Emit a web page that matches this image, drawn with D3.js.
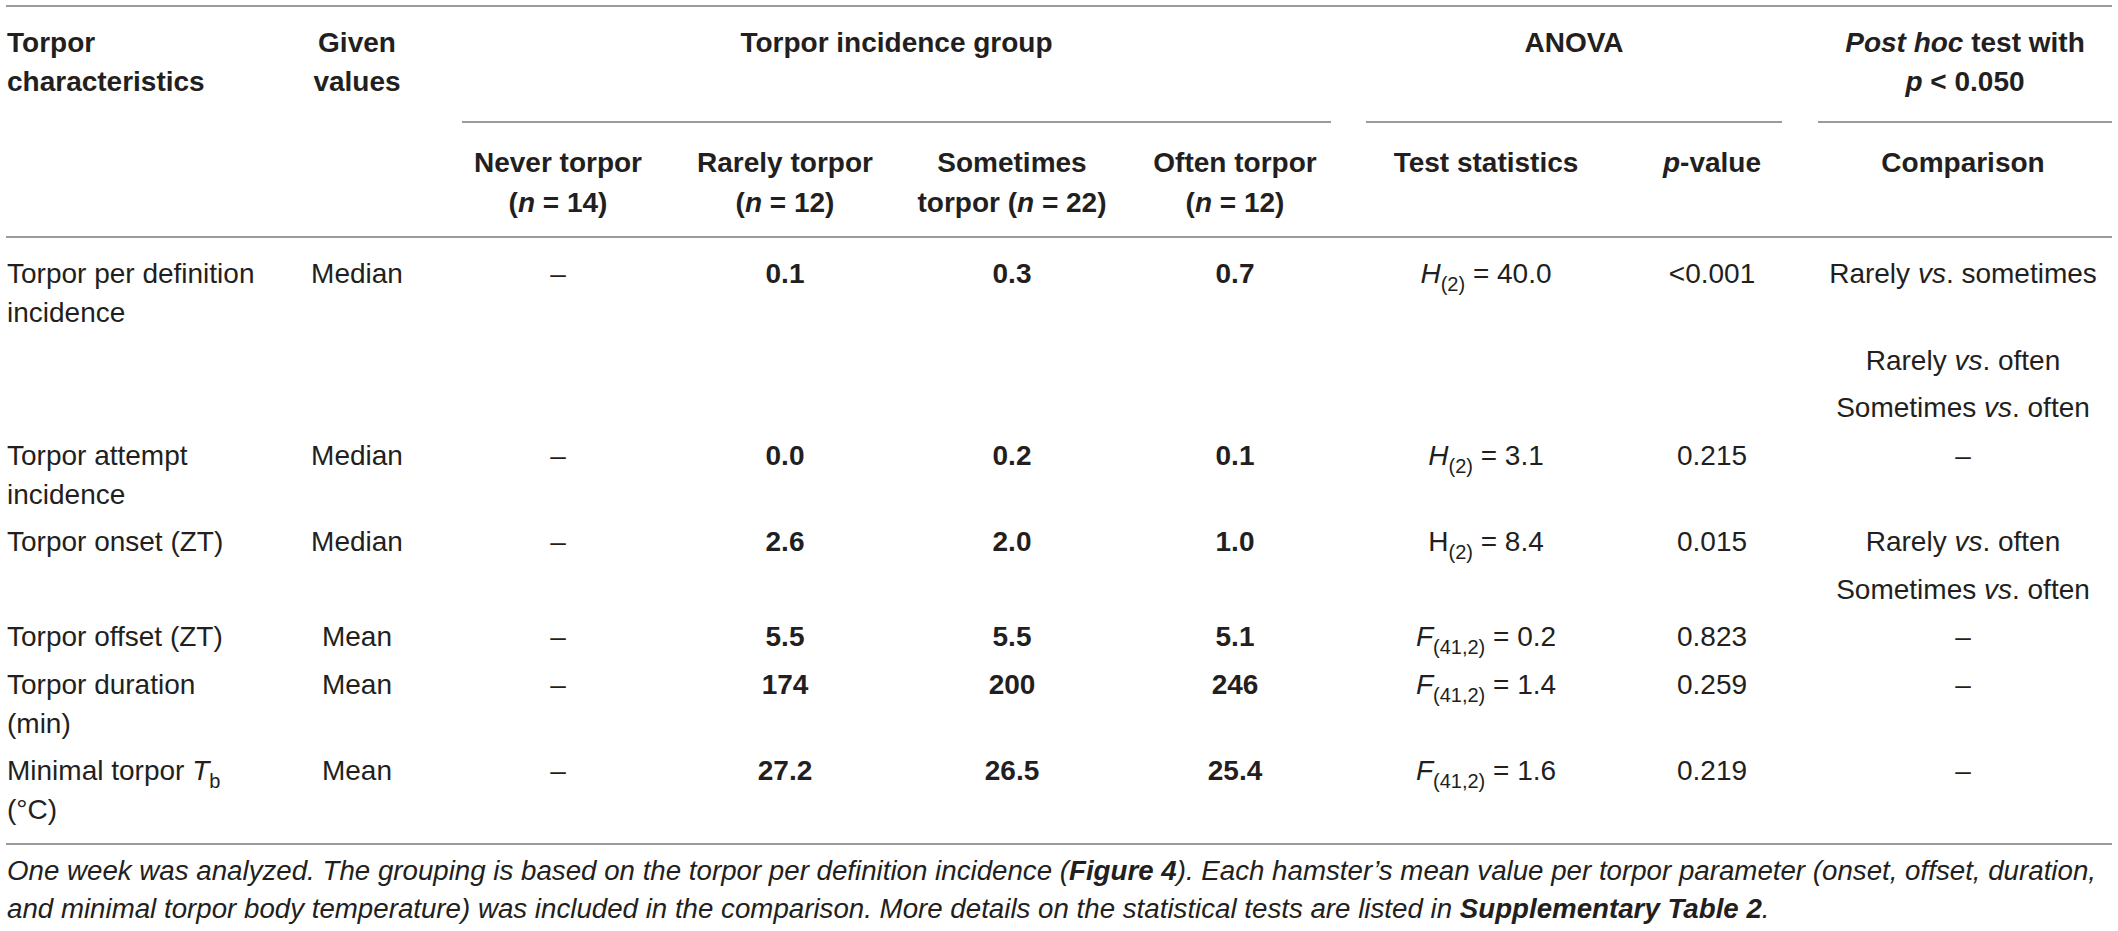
<!DOCTYPE html>
<html>
<head>
<meta charset="utf-8">
<script src="https://cdn.jsdelivr.net/npm/d3@7"></script>
<style>
	body { margin: 0; background: #fff; }
	text { font-family: "Liberation Sans", Arial, Helvetica, sans-serif; fill: #231f20; white-space: pre; }
</style>
</head>
<body>
<div id="mainWrapper"></div>
<script>

	// table contents ( *x* = italic, ~x~ = subscript, #x# = bold, | = line break )
	var characteristics = ["Torpor per definition|incidence", "Torpor attempt|incidence", "Torpor onset (ZT)", "Torpor offset (ZT)", "Torpor duration|(min)", "Minimal torpor *T*~b~|(°C)"];
	var givenValues = ["Median", "Median", "Median", "Mean", "Mean", "Mean"];
	var neverTorpor = ["–", "–", "–", "–", "–", "–"];
	var rarelyTorpor = ["0.1", "0.0", "2.6", "5.5", "174", "27.2"];
	var sometimesTorpor = ["0.3", "0.2", "2.0", "5.5", "200", "26.5"];
	var oftenTorpor = ["0.7", "0.1", "1.0", "5.1", "246", "25.4"];
	var testStatistics = ["*H*~(2)~ = 40.0", "*H*~(2)~ = 3.1", "H~(2)~ = 8.4", "*F*~(41,2)~ = 0.2", "*F*~(41,2)~ = 1.4", "*F*~(41,2)~ = 1.6"];
	var pValues = ["<0.001", "0.215", "0.015", "0.823", "0.259", "0.219"];
	var comparisons = [
		["Rarely *vs*. sometimes", "Rarely *vs*. often", "Sometimes *vs*. often"],
		["–"],
		["Rarely *vs*. often", "Sometimes *vs*. often"],
		["–"],
		["–"],
		["–"]
	];

	// header texts
	var columnKeys = ["char", "given", "never", "rarely", "sometimes", "often", "stat", "p", "comp"];
	var topHeaders = ["Torpor|characteristics", "Given|values"];
	var groupHeaders = ["Torpor incidence group", "ANOVA", "*Post hoc* test with|*p* < 0.050"];
	var groupSpans = [["never", "often"], ["stat", "p"], ["comp", "comp"]];
	var subHeaders = ["Never torpor|(*n* = 14)", "Rarely torpor|(*n* = 12)", "Sometimes|torpor (*n* = 22)", "Often torpor|(*n* = 12)", "Test statistics", "*p*-value", "Comparison"];
	var footnote = [
		"*One week was analyzed. The grouping is based on the torpor per definition incidence (#Figure 4#). Each hamster’s mean value per torpor parameter (onset, offset, duration,*",
		"*and minimal torpor body temperature) was included in the comparison. More details on the statistical tests are listed in #Supplementary Table 2#.*"
	];

	function TableDraw(){

		var width = 2118, height = 931;
		var fs = 28;
		var lineGap = 39, rowGap = 47.5;

		var svg = d3.select("#mainWrapper")
			.append("svg")
			.attr("width", width)
			.attr("height", height);

		// column centres (first column is left aligned)
		var colX = d3.scaleOrdinal()
			.domain(columnKeys)
			.range([7, 357, 558, 785, 1012, 1235, 1486, 1712, 1963]);
		// column edges for the rules under the group headers
		var colLeft = d3.scaleOrdinal().domain(columnKeys).range([6, 250, 462, 672, 900, 1125, 1366, 1600, 1818]);
		var colRight = d3.scaleOrdinal().domain(columnKeys).range([240, 450, 660, 890, 1115, 1331, 1560, 1782, 2112]);

		var rule = function(x1, x2, y){
			svg.append("line")
				.attr("x1", x1).attr("x2", x2)
				.attr("y1", y).attr("y2", y)
				.attr("stroke", "#9b9b9b")
				.attr("stroke-width", 2);
		};

		//罫線
		rule(6, 2112, 6);
		groupSpans.forEach(function(s){
			rule(colLeft(s[0]), colRight(s[1]), 122);
		});
		rule(6, 2112, 237);
		rule(6, 2112, 844);

		//ヘッダー
		var head = svg.append("g").attr("font-weight", "bold");
		multiLine(head, topHeaders[0], colX("char"), 52, "start", fs, lineGap);
		multiLine(head, topHeaders[1], colX("given"), 52, "middle", fs, lineGap);
		groupHeaders.forEach(function(h, i){
			var cx = (colLeft(groupSpans[i][0]) + colRight(groupSpans[i][1])) / 2;
			multiLine(head, h, cx, 52, "middle", fs, lineGap);
		});
		subHeaders.forEach(function(h, i){
			multiLine(head, h, colX(columnKeys[i + 2]), 172, "middle", fs, 40);
		});

		//本体
		var body = svg.append("g");
		var y = 283;
		characteristics.forEach(function(c, i){
			var nLines = c.split("|").length;
			multiLine(body, c, colX("char"), y, "start", fs, lineGap);
			richText(body, givenValues[i], colX("given"), y, "middle", fs);
			richText(body, neverTorpor[i], colX("never"), y, "middle", fs);
			richText(body, rarelyTorpor[i], colX("rarely"), y, "middle", fs).attr("font-weight", "bold");
			richText(body, sometimesTorpor[i], colX("sometimes"), y, "middle", fs).attr("font-weight", "bold");
			richText(body, oftenTorpor[i], colX("often"), y, "middle", fs).attr("font-weight", "bold");
			richText(body, testStatistics[i], colX("stat"), y, "middle", fs);
			richText(body, pValues[i], colX("p"), y, "middle", fs);

			var last = y + (nLines - 1) * lineGap;
			comparisons[i].forEach(function(cmp, k){
				var cy = y;
				if(k > 0){
					cy = last + rowGap;
					last = cy;
				}
				richText(body, cmp, colX("comp"), cy, "middle", fs);
			});
			y = last + rowGap;
		});

		//注釈
		var note = svg.append("g");
		footnote.forEach(function(line, i){
			richText(note, line, 7, 880 + i * 38, "start", 27.7);
		});
	}

	function multiLine(g, str, x, y, anchor, size, gap){
		str.split("|").forEach(function(line, i){
			richText(g, line, x, y + i * gap, anchor, size);
		});
	}

	// *italic*  ~subscript~  #bold#
	function richText(g, str, x, y, anchor, size){
		var t = g.append("text")
			.attr("x", x)
			.attr("y", y)
			.attr("text-anchor", anchor)
			.attr("font-size", size);
		var italic = false, bold = false, shift = 0;
		var parts = str.split(/([*~#])/);
		var sub = false;
		parts.forEach(function(p){
			if(p == "*"){ italic = !italic; return; }
			if(p == "#"){ bold = !bold; return; }
			if(p == "~"){ sub = !sub; return; }
			if(p.length == 0) return;
			var ts = t.append("tspan").text(p);
			if(italic) ts.attr("font-style", "italic");
			if(bold) ts.attr("font-weight", "bold");
			var target = sub ? Math.round(size * 0.3) : 0;
			if(sub) ts.attr("font-size", Math.round(size * 0.72));
			if(target != shift){
				ts.attr("dy", target - shift);
				shift = target;
			}
		});
		return t;
	}

	TableDraw();
</script>
</body>
</html>
